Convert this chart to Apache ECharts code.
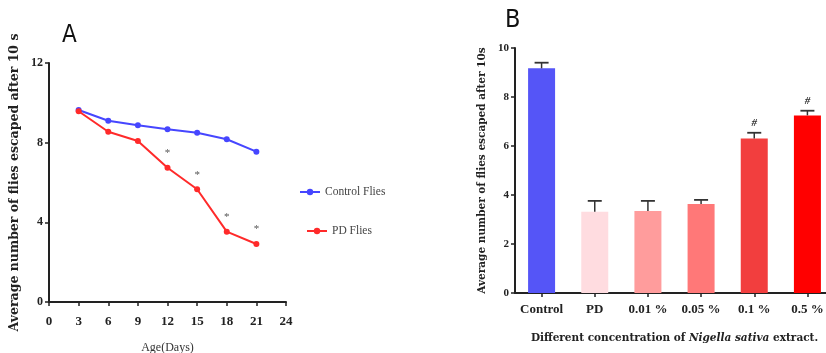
<!DOCTYPE html>
<html><head><meta charset="utf-8">
<script src="https://cdn.jsdelivr.net/npm/echarts@6/dist/echarts.min.js"></script>
<style>html,body{margin:0;padding:0;background:#fff}#c{width:826px;height:353px}</style>
</head><body><div id="c"></div>
<script>
// Panel A data
const days = [3, 6, 9, 12, 15, 18, 21];
const controlFlies = [9.64, 9.10, 8.87, 8.67, 8.50, 8.17, 7.55];
const pdFlies = [9.58, 8.55, 8.08, 6.74, 5.66, 3.53, 2.91];
const pdSig = ['', '', '', '*', '*', '*', '*'];
// Panel B data
const groups = ['Control', 'PD', '0.01 %', '0.05 %', '0.1 %', '0.5 %'];
const groupMeans = [9.17, 3.32, 3.35, 3.63, 6.31, 7.25];
const groupErr = [0.23, 0.44, 0.41, 0.17, 0.23, 0.19];
const groupSig = ['', '', '', '', '#', '#'];
const groupColors = ['#5555F7', '#FFDCE0', '#FF9C9C', '#FF7878', '#F23E3E', '#FF0000'];

const serif = "'Liberation Serif','DejaVu Serif',serif";
const wideSerif = "'DejaVu Serif','Liberation Serif',serif";
const narrow = "'DejaVu Sans Condensed','Liberation Sans Narrow','Roboto',sans-serif";
const axisLine = {show: true, lineStyle: {color: '#222', width: 2}};
const axisTick = {show: true, length: 4, lineStyle: {color: '#222', width: 1.5}};

const chart = echarts.init(document.getElementById('c'), null, {renderer: 'canvas'});
chart.setOption({
  animation: false,
  backgroundColor: '#fff',
  title: [
    {text: 'A', left: 57, top: 19, textStyle: {fontFamily: narrow, fontSize: 24, fontWeight: 'normal', color: '#111'}},
    {text: 'B', left: 500, top: 3, textStyle: {fontFamily: narrow, fontSize: 25, fontWeight: 'normal', color: '#111'}}
  ],
  legend: [
    {orient: 'vertical', left: 294, top: 181, itemWidth: 20, itemHeight: 8, itemGap: 4,
     textStyle: {fontFamily: serif, fontSize: 11.5, color: '#444'}, data: ['Control Flies']},
    {orient: 'vertical', left: 301, top: 220, itemWidth: 20, itemHeight: 8, itemGap: 4,
     textStyle: {fontFamily: serif, fontSize: 11.5, color: '#444'}, data: ['PD Flies']}
  ],
  grid: [
    {left: 49, top: 63, width: 237, height: 239, containLabel: false, outerBoundsMode: 'none'},
    {left: 515, top: 48, width: 319, height: 245, containLabel: false, outerBoundsMode: 'none'}
  ],
  xAxis: [
    {gridIndex: 0, type: 'value', min: 0, max: 24, interval: 3, splitLine: {show: false},
     axisLine: axisLine, axisTick: axisTick,
     axisLabel: {margin: 13, fontFamily: serif, fontWeight: 'bold', fontSize: 13, color: '#222'},
     name: 'Age(Days)', nameLocation: 'middle', nameGap: 40,
     nameTextStyle: {fontFamily: serif, fontSize: 12, color: '#333'}},
    {gridIndex: 1, type: 'category', data: groups, boundaryGap: true,
     axisLine: axisLine, axisTick: {show: true, alignWithLabel: true, length: 4, lineStyle: {color: '#222', width: 1.5}},
     axisLabel: {margin: 10, interval: 0, fontFamily: serif, fontWeight: 'bold', fontSize: 13, color: '#222'},
     name: 'Different concentration of {i|Nigella sativa} extract.', nameLocation: 'middle', nameGap: 40,
     nameTextStyle: {fontFamily: wideSerif, fontWeight: 'bold', fontSize: 10.5, color: '#222',
       rich: {i: {fontFamily: wideSerif, fontStyle: 'italic', fontWeight: 'bold', fontSize: 10.5, color: '#222'}}}}
  ],
  yAxis: [
    {gridIndex: 0, type: 'value', min: 0, max: 12, interval: 4, splitLine: {show: false},
     axisLine: axisLine, axisTick: axisTick,
     axisLabel: {margin: 6, fontFamily: serif, fontWeight: 'bold', fontSize: 12, color: '#222'},
     name: 'Average number of flies escaped after 10 s', nameLocation: 'middle', nameGap: 28,
     nameTextStyle: {fontFamily: wideSerif, fontWeight: 'bold', fontSize: 12.5, color: '#222'}},
    {gridIndex: 1, type: 'value', min: 0, max: 10, interval: 2, splitLine: {show: false},
     axisLine: axisLine, axisTick: axisTick,
     axisLabel: {margin: 6, fontFamily: serif, fontWeight: 'bold', fontSize: 11, color: '#222'},
     name: 'Average number of flies escaped after 10s', nameLocation: 'middle', nameGap: 27,
     nameTextStyle: {fontFamily: wideSerif, fontWeight: 'bold', fontSize: 10.5, color: '#222'}}
  ],
  series: [
    {name: 'Control Flies', type: 'line', xAxisIndex: 0, yAxisIndex: 0,
     data: days.map((d, i) => [d, controlFlies[i]]),
     color: '#4646FF', lineStyle: {width: 2}, symbol: 'circle', symbolSize: 6},
    {name: 'PD Flies', type: 'line', xAxisIndex: 0, yAxisIndex: 0,
     data: days.map((d, i) => [d, pdFlies[i]]),
     color: '#FF2A2A', lineStyle: {width: 2}, symbol: 'circle', symbolSize: 6,
     label: {show: true, position: 'top', distance: 6, formatter: p => pdSig[p.dataIndex],
       fontFamily: serif, fontSize: 11, color: '#555'}},
    {name: 'bars', type: 'bar', xAxisIndex: 1, yAxisIndex: 1, barWidth: 27,
     data: groupMeans.map((v, i) => ({value: v, itemStyle: {color: groupColors[i]}}))},
    {name: 'err', type: 'custom', xAxisIndex: 1, yAxisIndex: 1, z: 5,
     data: groups.map((g, i) => [i, groupMeans[i], groupErr[i]]),
     renderItem: function (params, api) {
       const base = api.coord([api.value(0), api.value(1)]);
       const top = api.coord([api.value(0), api.value(1) + api.value(2)]);
       const sig = groupSig[params.dataIndex];
       const children = [
         {type: 'line', shape: {x1: base[0], y1: base[1], x2: top[0], y2: top[1]}, style: {stroke: '#333', lineWidth: 1.5}},
         {type: 'line', shape: {x1: top[0] - 7, y1: top[1], x2: top[0] + 7, y2: top[1]}, style: {stroke: '#333', lineWidth: 1.8}}
       ];
       if (sig) {
         children.push({type: 'text', x: top[0], y: top[1] - 4,
           style: {text: sig, fill: '#333', font: 'italic bold 11px ' + serif, textAlign: 'center', textVerticalAlign: 'bottom'}});
       }
       return {type: 'group', children: children};
     }}
  ]
});
</script></body></html>
